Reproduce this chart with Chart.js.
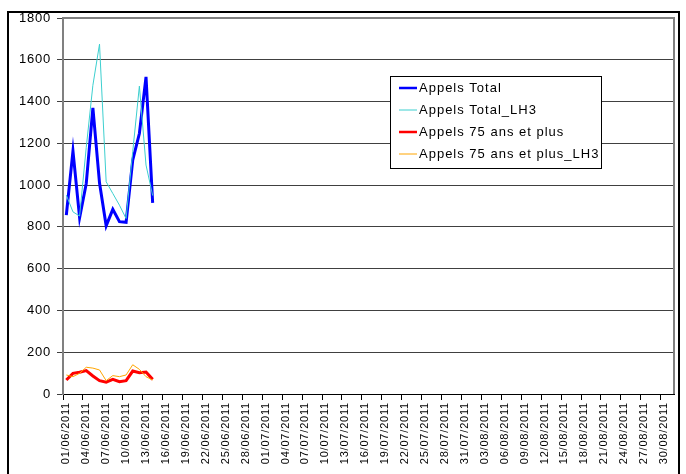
<!DOCTYPE html>
<html>
<head>
<meta charset="utf-8">
<script src="https://cdn.jsdelivr.net/npm/chart.js@4.4.1/dist/chart.umd.min.js"></script>
<style>
  html, body { margin: 0; padding: 0; background: #fff; }
  #wrap { position: relative; width: 686px; height: 474px; overflow: hidden; }
  #cadre { position: absolute; left: 7px; top: 11px; width: 673px; height: 480px; border: 2px solid #000; box-sizing: border-box; }
  canvas { position: absolute; left: 0; top: 0; }
</style>
</head>
<body>
<div id="wrap">
  <div id="cadre"></div>
  <canvas id="grafico1" width="686" height="474"></canvas>
</div>
<script>
// Séries (01/06/2011 -> 14/06/2011)
const appelsTotal = [856, 1163, 844, 1008, 1370, 1010, 805, 884, 825, 822, 1120, 1247, 1518, 915];
const appelsTotalLH3 = [952, 872, 852, 1180, 1478, 1675, 1016, 960, 904, 840, 1160, 1474, 1096, 950];
const appels75 = [67, 99, 104, 112, 86, 64, 57, 70, 59, 64, 110, 102, 105, 70];
const appels75LH3 = [91, 83, 99, 128, 124, 115, 64, 88, 83, 91, 140, 118, 83, 67];
const yTicks = [0, 200, 400, 600, 800, 1000, 1200, 1400, 1600, 1800];

// Catégories : un jour par catégorie, du 01/06/2011 au 31/08/2011
const dates = [];
const moisJours = [[6, 30], [7, 31], [8, 31]];
moisJours.forEach(function(m) {
    for (let d = 1; d <= m[1]; d++) {
        dates.push(String(d).padStart(2, '0') + '/' + String(m[0]).padStart(2, '0') + '/2011');
    }
});

const series = [
    { label: 'Appels Total', data: appelsTotal, color: '#0000FF', width: 3 },
    { label: 'Appels Total_LH3', data: appelsTotalLH3, color: '#3CCFCF', width: 1 },
    { label: 'Appels 75 ans et plus', data: appels75, color: '#FF0000', width: 3 },
    { label: 'Appels 75 ans et plus_LH3', data: appels75LH3, color: '#FFA500', width: 1 }
];

const fontBase = 'Liberation Sans, Arial, sans-serif';

// Légende dans la zone de tracé + bordure du cadre
const legendPlugin = {
    id: 'legendeInterne',
    beforeDraw: function(chart) {
        // espacement des lettres façon Excel
        chart.ctx.letterSpacing = '0.8px';
    },
    beforeDatasetsDraw: function(chart) {
        const a = chart.chartArea;
        const ctx = chart.ctx;
        ctx.save();
        ctx.strokeStyle = '#808080';
        ctx.lineWidth = 2;
        ctx.beginPath();
        ctx.moveTo(a.left, a.top);
        ctx.lineTo(a.right, a.top);
        ctx.lineTo(a.right, a.bottom);
        ctx.stroke();
        ctx.restore();
    },
    afterDraw: function(chart) {
        const ctx = chart.ctx;
        const x = 390, y = 76, w = 211, h = 92;
        ctx.save();
        ctx.fillStyle = '#fff';
        ctx.fillRect(x, y, w, h);
        ctx.strokeStyle = '#000';
        ctx.lineWidth = 1;
        ctx.strokeRect(x + 0.5, y + 0.5, w, h);
        ctx.font = '13px ' + fontBase;
        ctx.letterSpacing = '1px';
        ctx.textBaseline = 'middle';
        series.forEach(function(s, i) {
            const ly = y + 12 + i * 22;
            ctx.strokeStyle = s.color;
            ctx.lineWidth = s.width === 3 ? 2.5 : 1;
            ctx.beginPath();
            ctx.moveTo(x + 9, ly);
            ctx.lineTo(x + 27, ly);
            ctx.stroke();
            ctx.fillStyle = '#000';
            ctx.fillText(s.label, x + 29, ly);
        });
        ctx.restore();
    }
};

const ctx = document.getElementById('grafico1').getContext('2d');
new Chart(ctx, {
    type: 'line',
    data: {
        labels: dates,
        datasets: series.map(function(s, i) {
            return {
                label: s.label,
                data: s.data,
                borderColor: s.color,
                backgroundColor: s.color,
                borderWidth: s.width,
                pointRadius: 0,
                tension: 0,
                fill: false,
                order: 4 - i
            };
        })
    },
    options: {
        responsive: false,
        animation: false,
        layout: { padding: { left: 0, top: 18, right: 12, bottom: 0 } },
        plugins: {
            legend: { display: false },
            tooltip: { enabled: false }
        },
        scales: {
            x: {
                offset: true,
                grid: {
                    offset: true,
                    drawOnChartArea: false,
                    drawTicks: true,
                    tickLength: 6,
                    color: function(c) { return c.index % 3 === 0 ? '#000' : 'rgba(0,0,0,0)'; }
                },
                border: { color: '#000', width: 1 },
                ticks: {
                    autoSkip: false,
                    maxRotation: 90,
                    minRotation: 90,
                    padding: 2,
                    color: '#000',
                    font: { family: fontBase, size: 11 },
                    callback: function(v, i) { return i % 3 === 0 ? dates[i] : ''; }
                },
                afterFit: function(scale) { scale.height = 80; }
            },
            y: {
                min: 0,
                max: 1800,
                afterBuildTicks: function(scale) {
                    scale.ticks = yTicks.map(function(v) { return { value: v }; });
                },
                grid: {
                    color: '#404040',
                    lineWidth: 1,
                    tickLength: 6
                },
                border: { color: '#808080', width: 2 },
                ticks: {
                    color: '#000',
                    padding: 6,
                    font: { family: fontBase, size: 13 },
                    callback: function(v) { return String(v); }
                },
                afterFit: function(scale) { scale.width = 63; }
            }
        }
    },
    plugins: [legendPlugin]
});
</script>
</body>
</html>
